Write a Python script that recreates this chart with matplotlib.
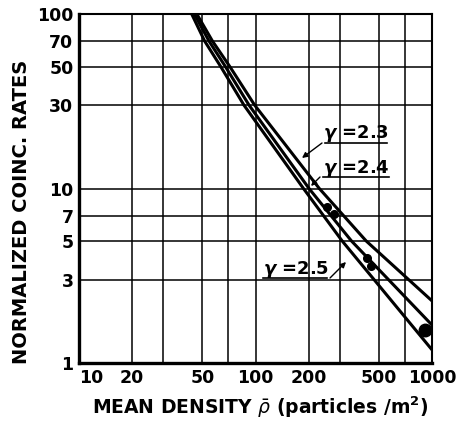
import matplotlib
matplotlib.use("Agg")
import matplotlib.pyplot as plt

plt.rcParams['font.family'] = ['DejaVu Sans']
plt.rcParams['mathtext.fontset'] = 'dejavusans'

# Curves (density, normalized rate)
g23_x = [46.5, 57.0, 71.5, 99.0, 229.9, 424, 1000]
g23_y = [100, 70, 50, 30, 10, 5.0, 2.27]
g24_x = [45.0, 54.5, 67.5, 92.0, 201, 350, 1000]
g24_y = [100, 70, 50, 30, 10, 5.0, 1.65]
g25_x = [43.5, 51.5, 63.5, 86.1, 187, 310, 1000]
g25_y = [100, 70, 50, 30, 10, 5.0, 1.19]

# Measured points
pts_x = [254, 279, 429, 451]
pts_y = [7.8, 7.1, 4.0, 3.6]
big_x = [913]
big_y = [1.55]

x_grid = [10, 20, 30, 50, 70, 100, 200, 300, 500, 700, 1000]
x_labels = [10, 20, 50, 100, 200, 500, 1000]
y_grid = [1, 3, 5, 7, 10, 30, 50, 70, 100]
y_labels = [1, 3, 5, 7, 10, 30, 50, 70, 100]

W, H = 466, 421
fig = plt.figure(figsize=(W/100, H/100), dpi=100)
ax = fig.add_axes([79/W, 1-363/H, (432-79)/W, (363-14)/H])
ax.set_xscale('log')
ax.set_yscale('log')
ax.set_xlim(10, 1000)
ax.set_ylim(1, 100)

for xv in x_grid:
    ax.axvline(xv, color='black', lw=1.1, zorder=1)
for yv in y_grid:
    ax.axhline(yv, color='black', lw=1.1, zorder=1)

ax.minorticks_off()
ax.set_xticks(x_labels)
ax.set_xticklabels([str(v) for v in x_labels])
ax.set_yticks(y_labels)
ax.set_yticklabels([str(v) for v in y_labels])
ax.tick_params(length=0, labelsize=12.5, pad=4)
for t in ax.get_xticklabels() + ax.get_yticklabels():
    t.set_fontweight('bold')
ax.get_xticklabels()[0].set_ha('left')

for s in ['left', 'bottom']:
    ax.spines[s].set_linewidth(2.4)
for s in ['top', 'right']:
    ax.spines[s].set_linewidth(1.5)

for xs, ys in [(g23_x, g23_y), (g24_x, g24_y), (g25_x, g25_y)]:
    ax.plot(xs, ys, color='black', lw=2.2, solid_capstyle='butt',
            solid_joinstyle='round', zorder=3)

ax.plot(pts_x, pts_y, 'o', color='black', ms=5.5, zorder=4)
ax.plot(big_x, big_y, 'o', color='black', ms=9, zorder=4)

def P(px, py):
    return (px, H - py)

def label(txt, tx, tbase, ul0, ul1, uly, start, tip):
    fig.text(tx/W, 1-tbase/H, txt, fontsize=13, fontweight='bold',
             ha='left', va='baseline')
    ax.annotate('', xy=P(ul1, uly), xytext=P(ul0, uly),
                xycoords='figure pixels', textcoords='figure pixels',
                arrowprops=dict(arrowstyle='-', color='black', lw=1.2))
    ax.annotate('', xy=P(*tip), xytext=P(*start),
                xycoords='figure pixels', textcoords='figure pixels',
                arrowprops=dict(arrowstyle='-|>', color='black', lw=1.0,
                                mutation_scale=8, shrinkA=0, shrinkB=0))

label(r'$\boldsymbol{\gamma}$ =2.3', 323, 138, 322, 390, 143, (322, 143), (302, 158))
label(r'$\boldsymbol{\gamma}$ =2.4', 323, 173, 320, 392, 177, (320, 177), (311, 186))
label(r'$\boldsymbol{\gamma}$ =2.5', 263, 274, 260, 330, 278, (330, 278), (346, 262))

fig.text(22/W, 1-212/H, 'NORMALIZED COINC. RATES', rotation=90, fontsize=14,
         fontweight='bold', ha='center', va='center')
fig.text(260/W, 1-414/H, r'MEAN DENSITY $\bar{\rho}$ (particles /m$^{\mathbf{2}}$)',
         fontsize=13.5, fontweight='bold', ha='center', va='baseline')

fig.savefig('out.png', dpi=100)
